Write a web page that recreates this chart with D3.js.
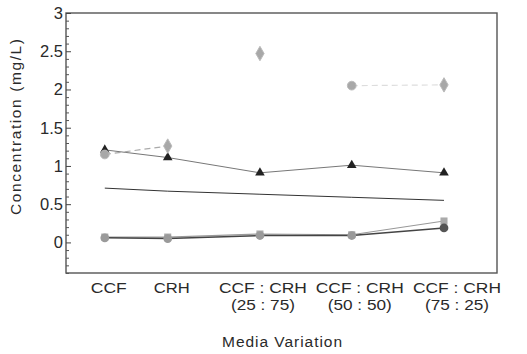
<!DOCTYPE html>
<html><head><meta charset="utf-8">
<script src="https://cdn.jsdelivr.net/npm/d3@7/dist/d3.min.js"></script>
<style>body{margin:0;background:#fff}svg{display:block}text{font-family:"Liberation Sans",Arial,sans-serif;fill:#2a2a2a}</style>
</head><body><svg id="c" width="527" height="354"></svg>
<script>
const categories = [["CCF"], ["CRH"], ["CCF : CRH", "(25 : 75)"], ["CCF : CRH", "(50 : 50)"], ["CCF : CRH", "(75 : 25)"]];
const triangleSeries = [1.21, 1.11, 0.91, 1.01, 0.91];
const diamondSeries = [1.15, 1.26, 2.47, 2.05, 2.06];
const trendSeries = [0.71, 0.67, 0.63, 0.59, 0.55];
const squareSeries = [0.07, 0.07, 0.11, 0.10, 0.28];
const circleSeries = [0.06, 0.05, 0.09, 0.09, 0.19];
const yTicks = [0, 0.5, 1, 1.5, 2, 2.5, 3];
const yTickLabels = ["0", "0.5", "1", "1.5", "2", "2.5", "3"];
const yTitle = "Concentration (mg/L)";
const xTitle = "Media Variation";

const svg = d3.select("#c");
const L = 66, R = 497, T = 13, B = 273, W = R - L;
const idx = categories.map((d, i) => i);
const x = d3.scaleLinear().domain(idx).range([0.09, 0.236, 0.45, 0.663, 0.877].map(f => L + f * W));
const y = d3.scaleLinear().domain([-0.4, 3]).range([B, T]);

// frame
svg.append("rect").attr("x", L).attr("y", T).attr("width", W).attr("height", B - T)
  .attr("fill", "none").attr("stroke", "#555").attr("stroke-width", 1.4);

// y axis ticks (inward)
const gy = svg.append("g").attr("transform", `translate(${L},0)`)
  .call(d3.axisRight(y).tickValues(yTicks).tickSize(5).tickFormat(""));
gy.select(".domain").remove();
gy.selectAll("line").attr("stroke", "#444");
const minor = d3.range(-4, 31).map(v => v / 10).filter(v => !yTicks.some(t => Math.abs(t - v) < 1e-6));
svg.append("g").attr("transform", `translate(${L},0)`).call(d3.axisRight(y).tickValues(minor).tickSize(3).tickFormat(""))
  .call(g => g.select(".domain").remove()).selectAll("line").attr("stroke", "#555");

svg.append("g").selectAll("text").data(yTicks).join("text")
  .attr("x", L - 3).attr("y", d => y(d) + 6).attr("text-anchor", "end")
  .attr("font-size", 16.5).text((d, i) => yTickLabels[i]);

svg.append("text").attr("transform", `translate(21,127) rotate(-90)`)
  .attr("text-anchor", "middle").attr("font-size", 15.5)
  .attr("textLength", 176).attr("lengthAdjust", "spacing").text(yTitle);

// x labels (each line is its own text so lines can sit tight)
const widthOf = s => s.length <= 3 ? 36 : (s.startsWith("(") ? 64 : 88);
categories.forEach((lines, i) => {
  const cx = x(i) + (i < 2 ? 4 : 3 + (i - 2) * 5);
  lines.forEach((s, j) => {
    svg.append("text").attr("x", cx).attr("y", 293 + j * 16.5).attr("text-anchor", "middle")
      .attr("font-size", 14).attr("textLength", widthOf(s)).attr("lengthAdjust", "spacingAndGlyphs").text(s);
  });
});

svg.append("text").attr("x", 282).attr("y", 347).attr("text-anchor", "middle").attr("font-size", 15.5)
  .attr("textLength", 120).attr("lengthAdjust", "spacing").text(xTitle);

const line = d3.line().x((d, i) => x(i)).y(d => y(d));

// trend line (no markers)
svg.append("path").attr("d", line(trendSeries)).attr("fill", "none").attr("stroke", "#333").attr("stroke-width", 1);

// triangle series
svg.append("path").attr("d", line(triangleSeries)).attr("fill", "none").attr("stroke", "#777").attr("stroke-width", 1);
svg.append("g").selectAll("path").data(triangleSeries).join("path")
  .attr("d", d3.symbol(d3.symbolTriangle, 40)())
  .attr("transform", (d, i) => `translate(${x(i)},${y(d)})`).attr("fill", "#222");

// diamond series: dashed segments
svg.append("path").attr("d", line(diamondSeries.slice(0, 2))).attr("fill", "none")
  .attr("stroke", "#aaa").attr("stroke-width", 1.2).attr("stroke-dasharray", "6,4");
svg.append("path").attr("d", d3.line().x((d, i) => x(i + 3)).y(d => y(d))(diamondSeries.slice(3))).attr("fill", "none")
  .attr("stroke", "#ddd").attr("stroke-width", 1.2).attr("stroke-dasharray", "6,4");
svg.append("g").selectAll("path").data(diamondSeries).join("path")
  .attr("d", (d, i) => d3.symbol(i === 0 || i === 3 ? d3.symbolCircle : d3.symbolDiamond, 60)())
  .attr("transform", (d, i) => `translate(${x(i)},${y(d)})`).attr("fill", "#a8a8a8").attr("stroke", "#bbb");

// square series
svg.append("path").attr("d", line(squareSeries)).attr("fill", "none").attr("stroke", "#999").attr("stroke-width", 1.2);
svg.append("g").selectAll("path").data(squareSeries).join("path")
  .attr("d", d3.symbol(d3.symbolSquare, 50)())
  .attr("transform", (d, i) => `translate(${x(i)},${y(d)})`).attr("fill", "#aaa");

// circle series
svg.append("path").attr("d", line(circleSeries)).attr("fill", "none").attr("stroke", "#444").attr("stroke-width", 1.5);
svg.append("g").selectAll("path").data(circleSeries).join("path")
  .attr("d", d3.symbol(d3.symbolCircle, 60)())
  .attr("transform", (d, i) => `translate(${x(i)},${y(d)})`).attr("fill", (d, i) => i === 4 ? "#555" : "#9a9a9a");
</script></body></html>
